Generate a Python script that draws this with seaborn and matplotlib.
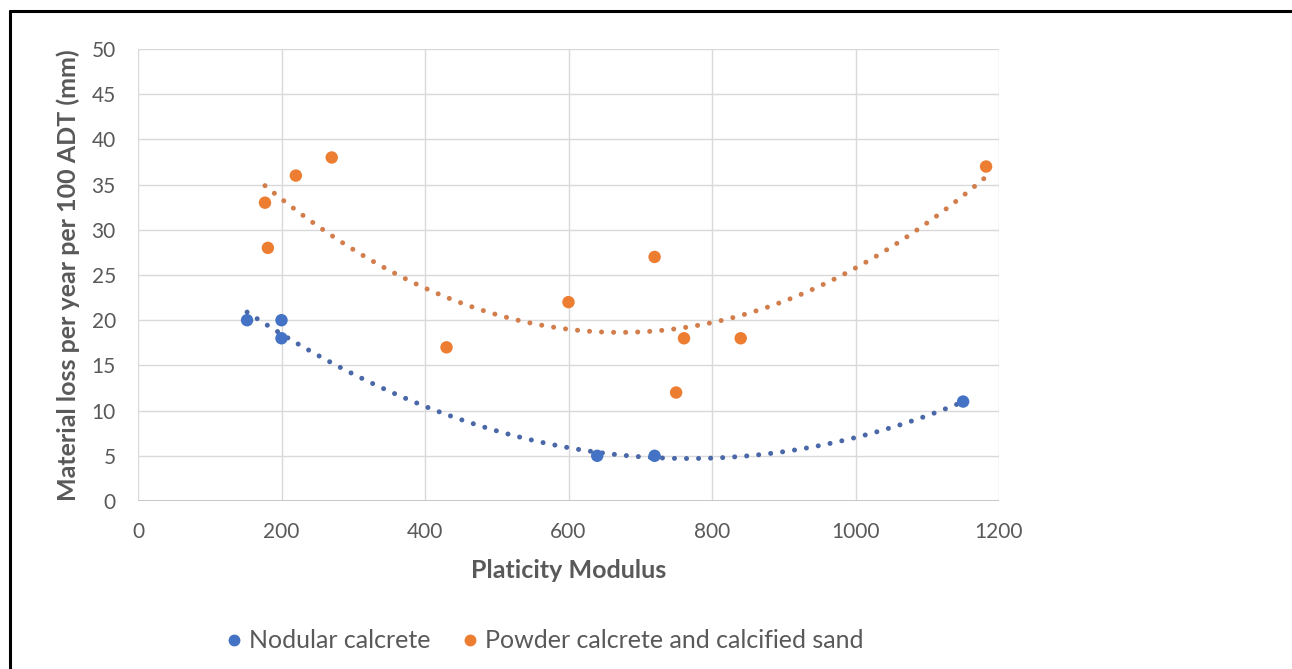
import matplotlib
matplotlib.use("Agg")
import matplotlib.pyplot as plt
from matplotlib.lines import Line2D
import seaborn as sns
import pandas as pd

# ---- data ----
nodular_x = [152, 200, 200, 640, 720, 1150]
nodular_y = [20, 20, 18, 5, 5, 11]
powder_x = [177, 181, 220, 270, 430, 600, 720, 750, 761, 840, 1182]
powder_y = [33, 28, 36, 38, 17, 22, 27, 12, 18, 18, 37]
series_names = ["Nodular calcrete", "Powder calcrete and calcified sand"]
x_ticks = [0, 200, 400, 600, 800, 1000, 1200]
y_ticks = [0, 5, 10, 15, 20, 25, 30, 35, 40, 45, 50]

colors = ["#4472C4", "#ED7D31"]
trend_colors = ["#4A68A8", "#D27E4C"]

df = pd.concat([
    pd.DataFrame({"x": nodular_x, "y": nodular_y, "series": series_names[0]}),
    pd.DataFrame({"x": powder_x, "y": powder_y, "series": series_names[1]}),
], ignore_index=True)

sns.set_theme(style="white")
plt.rcParams["font.family"] = ["Lato", "DejaVu Sans"]

fig = plt.figure(figsize=(12.92, 6.69), dpi=100)
ax = fig.add_axes([138/1292, 1-501/669, (999-138)/1292, (501-49)/669])

for name, c, tc in zip(series_names, colors, trend_colors):
    sub = df[df["series"] == name]
    sns.regplot(data=sub, x="x", y="y", order=2, ci=None, scatter=False, truncate=True,
                ax=ax, line_kws=dict(color=tc, lw=3.6, linestyle=(0, (0.01, 2.4)),
                                     dash_capstyle="round", solid_capstyle="round", zorder=2))
sns.scatterplot(data=df, x="x", y="y", hue="series", palette=colors, s=80,
                edgecolor="none", ax=ax, legend=False, zorder=3)

ax.set_xlim(0, 1200)
ax.set_ylim(0, 50)
ax.set_xticks(x_ticks)
ax.set_yticks(y_ticks)
ax.grid(True, color="#D9D9D9", lw=1.0)
ax.set_axisbelow(True)
for s in ax.spines.values():
    s.set_visible(False)
ax.axhline(0, color="#BFBFBF", lw=1.2, zorder=1)
ax.tick_params(axis="both", length=0, labelsize=15, labelcolor="#595959")
ax.tick_params(axis="x", pad=15)
ax.tick_params(axis="y", pad=16)
ax.set_xlabel("Platicity Modulus", fontsize=18, fontweight="bold", color="#595959", labelpad=12)
ax.set_ylabel("Material loss per year per 100 ADT (mm)", fontsize=18, fontweight="bold",
              color="#595959", labelpad=8)

handles = [Line2D([], [], marker="o", ls="none", color=c, markersize=7.5) for c in colors]
fig.legend(handles, series_names, loc="center", bbox_to_anchor=(0.419, 1-641/669), ncol=2,
           frameon=False, fontsize=18, labelcolor="#595959", handletextpad=0.0,
           handlelength=1.2, columnspacing=1.0)

# black border lines (top and left)
fig.add_artist(Line2D([10/1292, 1], [1-11/669, 1-11/669], color="black", lw=2.2,
                      transform=fig.transFigure))
fig.add_artist(Line2D([10/1292, 10/1292], [0, 1-11/669], color="black", lw=2.2,
                      transform=fig.transFigure))

fig.savefig("out.png", dpi=100, facecolor="white")
